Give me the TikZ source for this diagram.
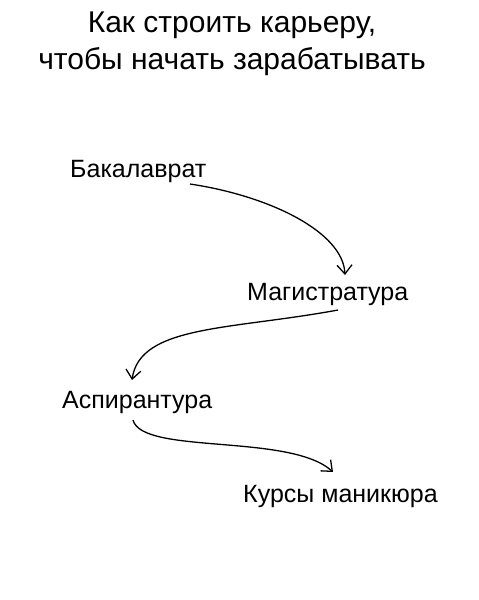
\documentclass[tikz,border=0pt]{standalone}
\usepackage{fontspec}
\setmainfont{Liberation Sans}
\usetikzlibrary{arrows.meta,positioning}
\tikzset{>={Straight Barb[length=9pt,width=15pt]}}

\begin{document}
\begin{tikzpicture}[x=1pt, y=-1pt,
    step label/.style={anchor=base west, inner sep=0pt, font=\fontsize{25}{30}\selectfont},
    flow/.style={->, line width=1.3pt}]
    \useasboundingbox[fill=white] (0,0) rectangle (479,600);
    % title
    \node[align=center, inner sep=0pt, anchor=base, font=\fontsize{30}{37}\selectfont] (title) at (232,69) {Как строить карьеру,\\чтобы начать зарабатывать};

    % steps of the career
    \node[step label] (bak) at (70,177) {Бакалаврат};
    \node[step label] (mag) at (247,300) {Магистратура};
    \node[step label] (asp) at (62,408) {Аспирантура};
    \node[step label] (kurs) at (243,502) {Курсы маникюра};

    \draw[flow] ([shift={(120,7)}]bak.base west) .. controls (270,196) and (343,232) .. ([shift={(98,-25)}]mag.base west);
    \draw[flow] ([shift={(91,10)}]mag.base west) .. controls (230,330) and (140,325) .. ([shift={(70,-28)}]asp.base west);
    \draw[flow] ([shift={(71,12)}]asp.base west) .. controls (142,455) and (290,433) .. ([shift={(90,-30)}]kurs.base west);
\end{tikzpicture}
\end{document}
